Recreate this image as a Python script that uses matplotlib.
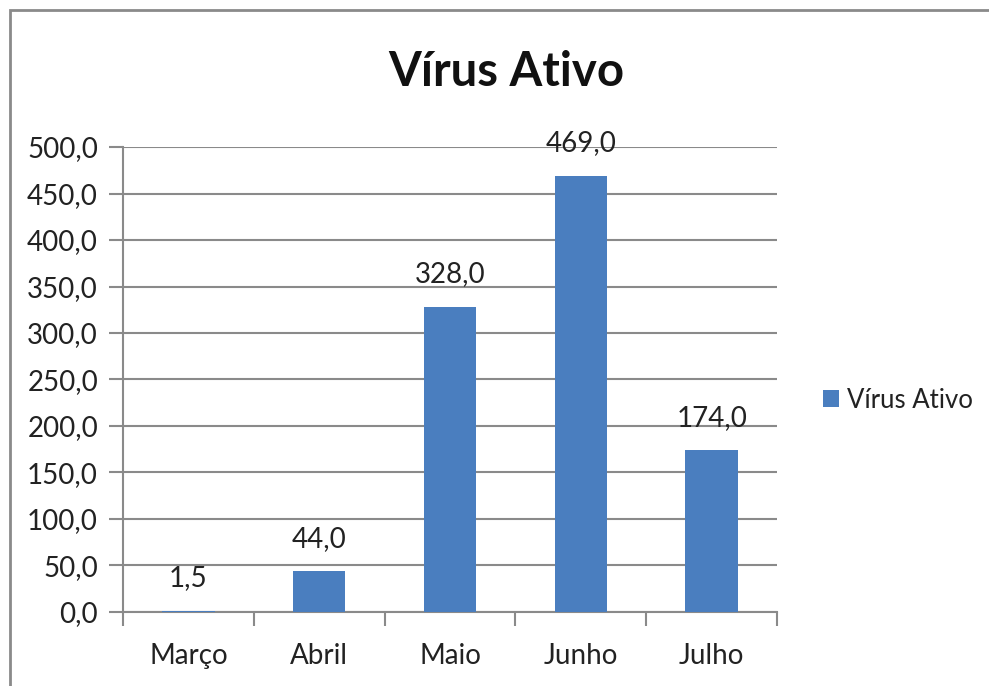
import matplotlib.pyplot as plt
from matplotlib.patches import Rectangle
from matplotlib.ticker import FuncFormatter, MultipleLocator
import numpy as np

# dados do grafico
meses = ["Março", "Abril", "Maio", "Junho", "Julho"]
virus_ativo = [1.5, 44.0, 328.0, 469.0, 174.0]

plt.rcParams['font.family'] = ['Lato', 'DejaVu Sans']

fig = plt.figure(figsize=(9.89, 6.86), dpi=100)
ax = fig.add_axes([0.1244, 0.1079, 0.6613, 0.6778])

x = np.arange(len(meses))
barras = ax.bar(x, virus_ativo, width=0.4, color="#4A7EBF", label="Vírus Ativo", zorder=3)

ax.set_xlim(-0.5, len(meses) - 0.5)
ax.set_ylim(0, 500)
ax.yaxis.set_major_locator(MultipleLocator(50))
ax.yaxis.set_major_formatter(FuncFormatter(lambda v, p: f"{v:.1f}".replace(".", ",")))

ax.set_xticks(x)
ax.set_xticklabels(meses)
ax.set_xticks(np.arange(len(meses) + 1) - 0.5, minor=True)
ax.tick_params(axis="x", which="major", length=0, pad=22, labelsize=20, labelcolor="#222222")
ax.tick_params(axis="x", which="minor", length=10, width=1.5, color="#8a8a8a")
ax.tick_params(axis="y", length=10, width=1.5, color="#8a8a8a", labelsize=20,
               labelcolor="#222222", pad=8)

ax.grid(axis="y", color="#8a8a8a", linewidth=1.5, zorder=0)
for s in ["top", "right"]:
    ax.spines[s].set_visible(False)
ax.spines["left"].set_color("#8a8a8a")
ax.spines["left"].set_linewidth(1.5)
ax.spines["bottom"].set_color("#8a8a8a")
ax.spines["bottom"].set_linewidth(1.5)

for xi, v in zip(x, virus_ativo):
    ax.annotate(f"{v:.1f}".replace(".", ","), (xi, v), xytext=(0, 14),
                textcoords="offset points", ha="center", va="bottom",
                fontsize=20, color="#222222")

fig.text(506 / 989, 1 - 72 / 686, "Vírus Ativo", ha="center", va="center",
         fontsize=34, fontweight="bold", color="#111111")

ax.legend(loc="center left", bbox_to_anchor=(1.042, 0.455), frameon=False,
          fontsize=18.5, handlelength=0.65, handleheight=0.65, handletextpad=0.3,
          borderaxespad=0.3, labelcolor="#222222")

fig.patches.append(Rectangle((10 / 989, -0.1), 1.2, 1.1 - 10 / 686,
                             transform=fig.transFigure, fill=False,
                             edgecolor="#8a8a8a", linewidth=2, clip_on=False))

fig.savefig("out.png", dpi=100)
